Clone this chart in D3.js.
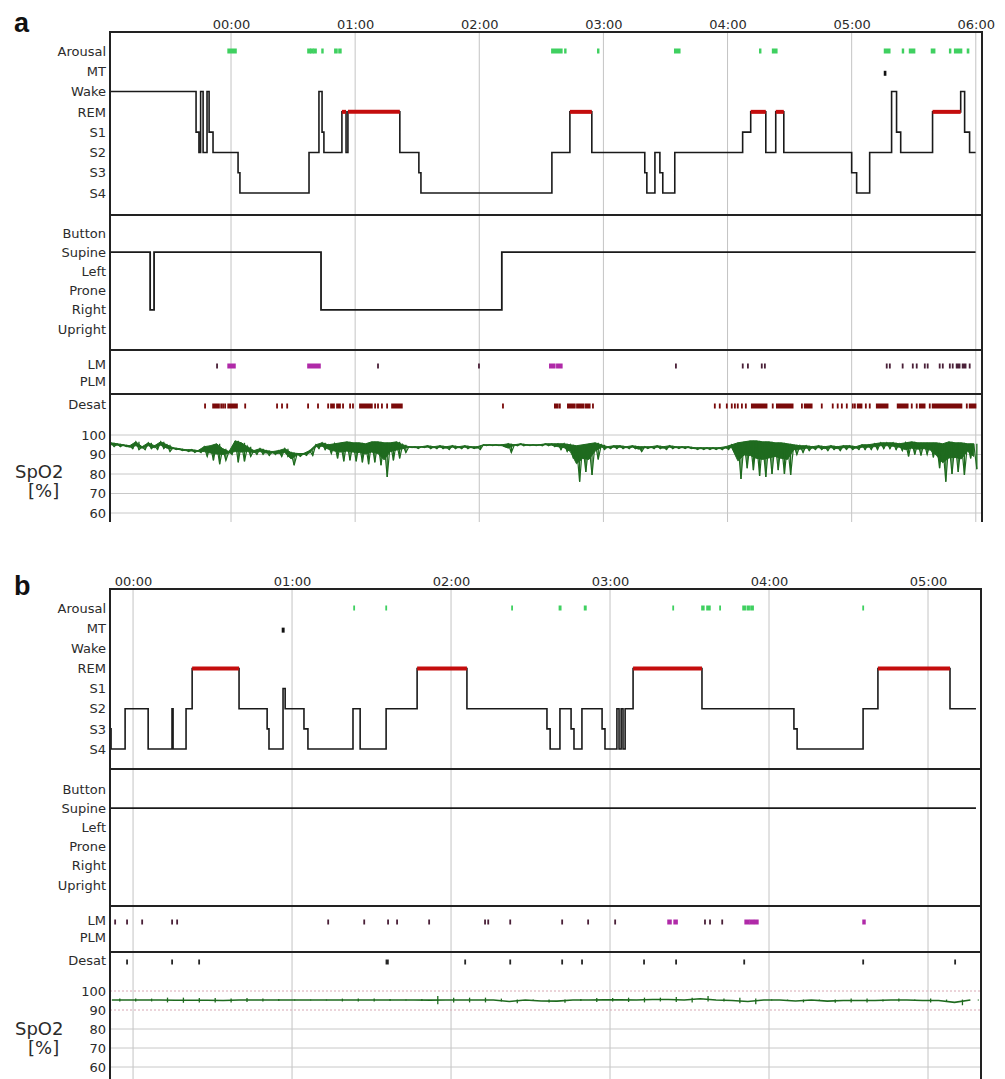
<!DOCTYPE html>
<meta charset="utf-8">
<style>
  body { margin: 0; background: #fff; }
  svg text { font-family: "DejaVu Sans", sans-serif; }
</style>
<body>
<script src="https://d3js.org/d3.v7.min.js"></script>
<script>
// row labels
var stageNames = ["Arousal", "MT", "Wake", "REM", "S1", "S2", "S3", "S4"];
var posNames = ["Button", "Supine", "Left", "Prone", "Right", "Upright"];
var lmNames = ["LM", "PLM"];
var spo2Ticks = [100, 90, 80, 70, 60];

// clock labels on top of each panel
var hourLabelsA = ["00:00", "01:00", "02:00", "03:00", "04:00", "05:00", "06:00"];
var hourLabelsB = ["00:00", "01:00", "02:00", "03:00", "04:00", "05:00"];

// times are minutes after midnight (negative = before midnight)
// hypnogram: [start, stage], last entry closes the recording
var stagesA = [[-58.5,"Wake"],[-16.9,"S1"],[-15.5,"S2"],[-14.7,"Wake"],[-13.5,"S2"],[-11.6,"Wake"],[-10.6,"S1"],[-8.7,"S2"],
  [3.4,"S3"],[4.3,"S4"],[37.7,"S2"],[42.5,"Wake"],[44.0,"S1"],[44.9,"S2"],[53.6,"REM"],[55.6,"S2"],[56.5,"REM"],
  [81.6,"S2"],[90.8,"S3"],[91.8,"S4"],[155.1,"S2"],[163.8,"REM"],[174.4,"S2"],[200.0,"S3"],[201.0,"S4"],[204.9,"S2"],
  [207.3,"S3"],[208.7,"S4"],[214.5,"S2"],[247.3,"S1"],[251.2,"REM"],[258.5,"S2"],[263.3,"REM"],[267.2,"S2"],
  [300.0,"S3"],[302.4,"S4"],[308.7,"S2"],[319.3,"Wake"],[321.7,"S1"],[323.7,"S2"],[339.1,"REM"],[352.7,"Wake"],
  [354.6,"S1"],[357.0,"S2"],[359.9,"S2"]];
var stagesB = [[-8.7,"S3"],[-8.3,"S4"],[-3.0,"S2"],[5.7,"S4"],[14.7,"S2"],[15.1,"S4"],[20.0,"S2"],[22.3,"REM"],
  [40.0,"S2"],[50.6,"S3"],[51.3,"S4"],[56.6,"S1"],[57.4,"S2"],[64.5,"S3"],[66.0,"S4"],[83.0,"S2"],[85.7,"S4"],
  [95.5,"S2"],[107.2,"REM"],[126.0,"S2"],[156.2,"S3"],[157.4,"S4"],[161.1,"S2"],[165.3,"S3"],[166.4,"S4"],
  [169.4,"S2"],[177.0,"S3"],[178.1,"S4"],[182.6,"S2"],[183.4,"S4"],[184.2,"S2"],[184.9,"S4"],[185.7,"S2"],
  [188.7,"REM"],[214.7,"S2"],[249.4,"S3"],[250.6,"S4"],[275.5,"S2"],[281.1,"REM"],[308.3,"S2"],[318.1,"S2"]];

// body position
var positionA = [[-58.5,"Supine"],[-39.1,"Right"],[-37.2,"Supine"],[43.5,"Right"],[130.9,"Supine"],[359.9,"Supine"]];
var positionB = [[-8.7,"Supine"],[318.1,"Supine"]];

// scored events [start, end]
var arousalA = [[-1.4,2.4],[37.2,38.2],[38.6,39.6],[40.1,41.1],[44.0,44.4],[50.2,51.2],[52.2,53.1],[155.1,159.9],
  [161.4,161.8],[177.3,177.7],[214.5,216.9],[255.6,256.0],[261.8,263.8],[315.9,318.4],[324.6,325.0],[328.0,330.4],
  [338.6,340.1],[347.4,347.8],[349.8,353.1],[356.0,356.5]];
var arousalB = [[83.4,83.4],[95.5,95.5],[143.0,143.0],[160.9,161.4],[170.4,170.9],[203.8,203.8],[214.7,215.4],
  [216.6,217.7],[221.5,221.5],[230.2,231.0],[231.8,232.5],[233.2,234.0],[275.5,275.5]];
var mtA = [[315.9,316.4]];
var mtB = [[56.4,56.9]];
var lmA = [[-6.8,-6.8],[71.0,71.0],[119.8,119.8],[215.0,215.0],[247.3,247.3],[249.8,249.8],[256.5,256.5],[258.0,258.0],
  [316.9,316.9],[318.4,318.4],[324.6,324.6],[329.5,329.5],[331.4,331.4],[335.3,335.3],[336.7,336.7],[342.5,342.5],
  [344.0,344.0],[347.4,347.4],[348.8,348.8],[350.7,352.2],[353.6,355.1],[357.0,357.0]];
var plmA = [[-1.4,1.9],[37.2,43.0],[154.1,156.5],[157.5,159.9]];
var lmB = [[-6.8,-6.8],[-2.3,-2.3],[3.4,3.4],[14.7,14.7],[16.6,16.6],[73.6,73.6],[87.2,87.2],[96.2,96.2],[99.6,99.6],
  [111.7,111.7],[132.8,132.8],[134.0,134.0],[142.3,142.3],[161.9,161.9],[171.7,171.7],[181.9,181.9],[215.8,215.8],
  [217.7,217.7],[222.3,222.3]];
var plmB = [[201.9,203.0],[204.2,205.3],[231.0,232.3],[232.8,234.1],[234.6,235.8],[275.5,276.2]];
var desatA = [[-12.6,-12.6],[-8.7,-5.8],[-4.8,-4.8],[-3.9,-3.9],[-2.9,-2.9],[-1.4,2.9],[6.8,6.8],[22.2,22.2],[24.6,24.6],
  [27.1,27.1],[37.2,37.2],[42.0,42.0],[46.9,46.9],[48.3,49.8],[51.2,52.7],[54.1,54.1],[57.5,57.5],[58.9,58.9],
  [62.3,68.1],[69.6,69.6],[71.0,71.0],[72.9,72.9],[75.4,75.4],[77.8,82.6],[131.4,131.4],[156.5,158.0],[158.9,158.9],
  [162.8,166.2],[167.2,170.5],[171.5,173.4],[174.9,174.9],[233.8,233.8],[236.2,236.2],[239.6,239.6],[242.0,242.0],
  [243.5,243.5],[244.9,244.9],[246.9,246.9],[248.8,248.8],[251.7,258.9],[261.8,261.8],[263.8,271.5],[275.9,275.9],
  [277.3,280.7],[285.5,285.5],[290.8,290.8],[293.2,293.2],[295.2,295.2],[297.6,297.6],[300.5,300.5],[301.5,301.5],
  [302.9,304.8],[306.8,306.8],[308.7,308.7],[312.1,317.4],[322.2,327.1],[329.0,329.0],[331.4,331.4],[332.9,335.3],
  [337.7,337.7],[339.1,353.1],[355.6,355.6],[357.0,359.9]];
var desatB = [[-2.3,-2.3],[14.7,14.7],[24.9,24.9],[95.6,96.2],[125.3,125.3],[142.3,142.3],[161.9,161.9],[169.4,169.4],
  [192.8,192.8],[204.9,204.9],[230.6,230.6],[275.5,275.5],[310.2,310.2]];

// SpO2 per bin: highest and lowest reading in each bin
var spo2StartA = -58, spo2StepA = 3;
var spo2HiA = [
  96, 95.5, 95, 94.5, 96.5, 94, 96, 94.5, 96.5, 95,
  93.5, 93, 92.5, 92.5, 92, 94, 94.5, 95.5, 93, 91.5,
  97, 96, 94, 92, 93, 92, 91.5, 92, 93, 91,
  90.5, 90.5, 92, 95, 96, 95, 95.5, 96, 96.5, 96,
  96, 95.5, 96.5, 96.5, 96, 96, 96.5, 95, 94, 94,
  94, 94.5, 94, 94.5, 94, 94.5, 94, 94.5, 94, 94,
  95, 95, 95, 95, 95.5, 95, 95.5, 95, 95, 95,
  95.5, 95.5, 95.5, 95.5, 95, 94.5, 95, 95.5, 96, 95,
  94, 94.5, 94.5, 94, 94.5, 94, 94, 94, 94.5, 94,
  94.5, 94, 94, 94, 93.5, 93.5, 93.5, 93.5, 93.5, 94,
  95, 96, 96.5, 97, 97, 96.5, 96.5, 96, 96, 95.5,
  95, 94.5, 94.5, 94, 94.5, 94, 94.5, 94, 94.5, 94.5,
  94, 95, 95, 95.5, 96, 96, 96, 95.5, 96, 96.5,
  96, 96, 96, 96, 95.5, 96.5, 96, 96, 95.5, 95.5];
var spo2LoA = [
  94, 94, 94, 93, 92.5, 92.5, 93, 92.5, 93, 91.5,
  92.5, 92, 91.5, 91, 91, 89, 87, 85, 87, 90,
  86, 86.5, 89, 90, 90, 89.5, 90, 89, 89, 84.5,
  89, 89.5, 89.5, 93, 92.5, 90.5, 88, 86.5, 87, 86.5,
  86, 85, 86, 84.5, 78.5, 87, 88, 91, 93.5, 93,
  93.5, 93, 93, 93, 92.5, 93, 93, 93, 93, 92.5,
  94.5, 94.5, 94.5, 94, 91, 94.5, 94.5, 94.5, 94.5, 94.5,
  94.5, 94, 92.5, 91.5, 88, 76, 81, 79.5, 87.5, 92.5,
  93, 93, 93, 93, 93, 91.5, 93, 93, 93, 92.5,
  93, 93, 93, 93, 92.5, 92.5, 92.5, 92.5, 92.5, 92.5,
  92, 77.5, 83, 82, 79, 78.5, 80, 82, 80, 79.5,
  90, 91, 92, 92.5, 92.5, 92, 92.5, 92, 92.5, 92.5,
  92.5, 92.5, 92.5, 92.5, 93, 93, 92.5, 92, 89, 90,
  89.5, 90, 88.5, 83, 76, 80, 81, 79.5, 88, 82.5];
var spo2StartB = -8, spo2StepB = 6;
var spo2HiB = [
  96, 96, 96, 96.5, 96.5, 96.3, 96.3, 96, 96.3, 96,
  95.8, 95.5, 95.5, 95.5, 96, 96, 96, 95.8, 95.5, 95.8,
  97.4, 96.5, 96.5, 96.5, 96, 95.5, 95.5, 95.5, 95.5, 95.8,
  96.3, 96.3, 96.5, 96.5, 96.5, 96.8, 96.5, 97.4, 96, 96.5,
  96, 95.5, 95.5, 95.5, 95.5, 95.5, 96, 96, 95.5, 96,
  95.5, 96, 95.5, 95.5, 95.5];
var spo2LoB = [
  94.5, 94.5, 94.5, 94, 93.8, 94, 94, 94, 94.2, 94.5,
  94.8, 95, 95, 95, 94.5, 94.5, 94.5, 94.8, 95, 94.8,
  93, 94, 94, 94, 94.5, 93.5, 95, 94, 93.8, 94.8,
  94.2, 94.5, 94.2, 94, 94.5, 94.2, 94, 94.5, 94.5, 93.5,
  93, 95, 95, 94, 95, 93.8, 94, 94, 94.5, 94.5,
  95, 94, 94.5, 92.5, 95];

var svg = d3.select("body").append("svg")
  .attr("width", 1005)
  .attr("height", 1079)
  .style("background", "#fff");

function drawPanel(p) {
  var g = svg.append("g");
  var x = d3.scaleLinear().domain(p.domain).range([p.left, p.right]);
  var yStage = d3.scalePoint().domain(stageNames).range(p.stageRange);
  var yPos = d3.scalePoint().domain(posNames).range(p.posRange);
  var yLm = d3.scalePoint().domain(lmNames).range(p.lmRange);
  var ySpo2 = d3.scaleLinear().domain([60, 100]).range(p.spo2Range);
  var hours = p.hourLabels.map(function(s) { return +s.slice(0, 2) * 60; });

  // light grid
  g.selectAll(".vgrid").data(hours).enter().append("line")
    .attr("x1", x).attr("x2", x)
    .attr("y1", p.top).attr("y2", p.bottom)
    .attr("stroke", "#c4c4c4").attr("stroke-width", 1);
  g.selectAll(".hgrid").data(spo2Ticks).enter().append("line")
    .attr("x1", p.left).attr("x2", p.right)
    .attr("y1", ySpo2).attr("y2", ySpo2)
    .attr("stroke", function(d) { return p.dotted.indexOf(d) >= 0 ? "#d8a8b4" : "#c8c8c8"; })
    .attr("stroke-dasharray", function(d) { return p.dotted.indexOf(d) >= 0 ? "2,2" : null; });

  // axes (labels only)
  function styleAxis(sel, size) {
    sel.select(".domain").remove();
    sel.attr("font-family", "DejaVu Sans, sans-serif").attr("font-size", size);
    sel.selectAll("text").attr("fill", "#2b2b2b");
  }
  g.append("g").attr("transform", "translate(0," + p.top + ")")
    .call(d3.axisTop(x).tickValues(hours).tickSize(0).tickPadding(3)
      .tickFormat(function(d, i) { return p.hourLabels[i]; }))
    .call(styleAxis, 13);
  [yStage, yPos, yLm].forEach(function(s) {
    g.append("g").attr("transform", "translate(" + p.left + ",0)")
      .call(d3.axisLeft(s).tickSize(0).tickPadding(4))
      .call(styleAxis, 13);
  });
  g.append("g").attr("transform", "translate(" + p.left + ",0)")
    .call(d3.axisLeft(ySpo2).tickValues(spo2Ticks).tickSize(0).tickPadding(4))
    .call(styleAxis, 13);
  g.append("g").attr("transform", "translate(" + p.left + ",0)")
    .call(d3.axisLeft(d3.scalePoint().domain(["Desat"]).range([p.desatY, p.desatY])).tickSize(0).tickPadding(4))
    .call(styleAxis, 13);

  g.append("text").attr("x", 15).attr("y", p.spo2LabelY)
    .attr("font-size", 18).attr("fill", "#2b2b2b").text("SpO2");
  g.append("text").attr("x", 28).attr("y", p.spo2LabelY + 19)
    .attr("font-size", 18).attr("fill", "#2b2b2b").text("[%]");
  g.append("text").attr("x", 14).attr("y", p.letterY)
    .style("font-family", "Liberation Sans, Arial, sans-serif")
    .attr("font-size", 27).attr("font-weight", "bold").attr("fill", "#111").text(p.letter);

  // hypnogram
  var step = d3.line().curve(d3.curveStepAfter)
    .x(function(d) { return x(d[0]); });
  g.append("path").datum(p.stages)
    .attr("d", step.y(function(d) { return yStage(d[1]); }))
    .attr("fill", "none").attr("stroke", "#1a1a1a").attr("stroke-width", 1.6);
  var rem = [];
  p.stages.forEach(function(d, i) {
    if (d[1] === "REM" && i < p.stages.length - 1) rem.push([d[0], p.stages[i + 1][0]]);
  });
  g.selectAll(".rem").data(rem).enter().append("line")
    .attr("x1", function(d) { return x(d[0]); }).attr("x2", function(d) { return x(d[1]); })
    .attr("y1", yStage("REM")).attr("y2", yStage("REM"))
    .attr("stroke", "#c40d0d").attr("stroke-width", 4);

  // position
  g.append("path").datum(p.position)
    .attr("d", d3.line().curve(d3.curveStepAfter)
      .x(function(d) { return x(d[0]); })
      .y(function(d) { return yPos(d[1]); }))
    .attr("fill", "none").attr("stroke", "#1a1a1a").attr("stroke-width", 1.8);

  // event marks
  function marks(data, yc, h, color) {
    g.append("g").selectAll("rect").data(data).enter().append("rect")
      .attr("x", function(d) { return x(d[0]) - 0.8; })
      .attr("width", function(d) { return Math.max(x(d[1]) - x(d[0]) + 1.6, 1.8); })
      .attr("y", yc - h / 2).attr("height", h)
      .attr("fill", color);
  }
  marks(p.arousal, yStage("Arousal"), 5, "#3fd060");
  marks(p.mt, yStage("MT") + 2, 5, "#111");
  marks(p.lm, yLm("LM") + 2, 5, "#4a2038");
  marks(p.plm, yLm("LM") + 2, 5, "#b02aa8");
  marks(p.desat, p.desatY + 2, 5, p.desatColor);

  // SpO2 trace
  var bins = p.spo2Hi.map(function(v, i) {
    return { t: p.spo2Start + i * p.spo2Step, hi: v, lo: p.spo2Lo[i] };
  });
  var green = "#1f6b1f";
  if (p.spo2Fill) {
    // dense signal: solid core under the upper edge, needles down to the lowest reading
    g.append("path").datum(bins)
      .attr("d", d3.area()
        .x(function(d) { return x(d.t); })
        .y0(function(d) { return ySpo2((d.hi + d.lo) / 2); })
        .y1(function(d) { return ySpo2(d.hi); }))
      .attr("fill", green).attr("stroke", green).attr("stroke-width", 1);
    var zz = [];
    bins.forEach(function(d) {
      zz.push([d.t, d.hi]);
      zz.push([d.t + p.spo2Step / 2, d.lo]);
    });
    g.append("path").datum(zz)
      .attr("d", d3.line().x(function(d) { return x(d[0]); }).y(function(d) { return ySpo2(d[1]); }))
      .attr("fill", "none").attr("stroke", green).attr("stroke-width", 1.2);
  } else {
    g.append("path").datum(bins)
      .attr("d", d3.line()
        .x(function(d) { return x(d.t); })
        .y(function(d) { return ySpo2((d.hi + d.lo) / 2); }))
      .attr("fill", "none").attr("stroke", green).attr("stroke-width", 1.6);
  }
  g.append("g").selectAll("line").data(bins).enter().append("line")
    .attr("x1", function(d) { return x(d.t + p.spo2Step / 2); })
    .attr("x2", function(d) { return x(d.t + p.spo2Step / 2); })
    .attr("y1", function(d) { return ySpo2(d.hi); })
    .attr("y2", function(d) { return ySpo2(d.lo); })
    .attr("stroke", green).attr("stroke-width", 1.3);

  // frame and separators
  [p.top, p.hypBottom, p.posBottom, p.lmBottom].forEach(function(y) {
    g.append("line").attr("x1", p.left).attr("x2", p.right + 1)
      .attr("y1", y).attr("y2", y).attr("stroke", "#222").attr("stroke-width", 2);
  });
  [p.left, p.right].forEach(function(xx) {
    g.append("line").attr("x1", xx).attr("x2", xx)
      .attr("y1", p.top - 1).attr("y2", p.bottom)
      .attr("stroke", "#222").attr("stroke-width", 2);
  });
}

drawPanel({
  letter: "a", letterY: 32,
  domain: [-58.5, 363], left: 110, right: 982,
  top: 32, hypBottom: 215, posBottom: 350, lmBottom: 394, bottom: 522,
  hourLabels: hourLabelsA,
  stageRange: [51, 193], posRange: [233, 329], lmRange: [364, 381],
  desatY: 404, spo2Range: [513, 435], spo2LabelY: 478, dotted: [],
  stages: stagesA, position: positionA, arousal: arousalA, mt: mtA,
  lm: lmA, plm: plmA, desat: desatA, desatColor: "#7a0a0a",
  spo2Start: spo2StartA, spo2Step: spo2StepA, spo2Hi: spo2HiA, spo2Lo: spo2LoA, spo2Fill: true
});

drawPanel({
  letter: "b", letterY: 595,
  domain: [-8.7, 320], left: 110, right: 981,
  top: 589, hypBottom: 769, posBottom: 906, lmBottom: 952, bottom: 1079,
  hourLabels: hourLabelsB,
  stageRange: [608, 749], posRange: [789, 885], lmRange: [920, 937],
  desatY: 960, spo2Range: [1067, 991], spo2LabelY: 1035, dotted: [100, 90],
  stages: stagesB, position: positionB, arousal: arousalB, mt: mtB,
  lm: lmB, plm: plmB, desat: desatB, desatColor: "#262626",
  spo2Start: spo2StartB, spo2Step: spo2StepB, spo2Hi: spo2HiB, spo2Lo: spo2LoB, spo2Fill: false
});
</script>
</body>
</html>
